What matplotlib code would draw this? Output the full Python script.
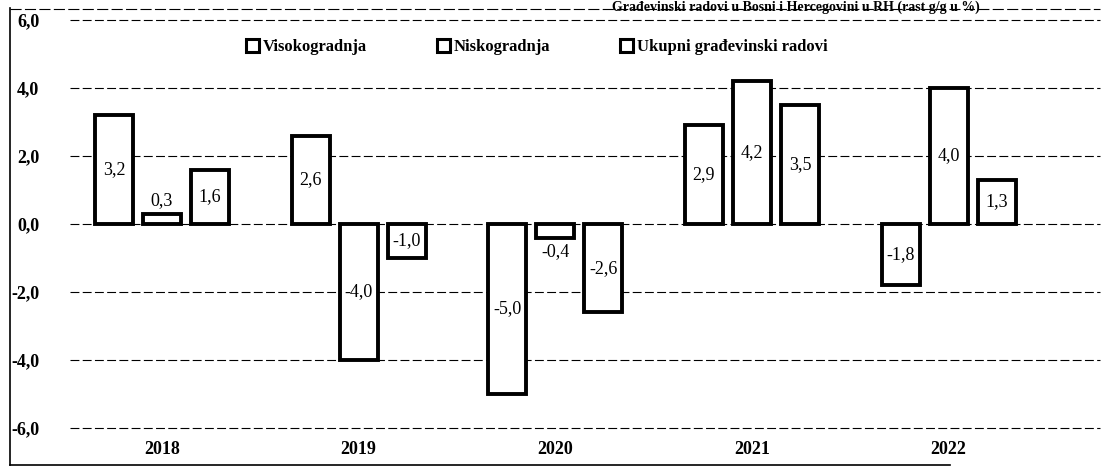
#!/usr/bin/env python3
import matplotlib
matplotlib.use('Agg')
import matplotlib.pyplot as plt
from matplotlib.patches import Rectangle
import numpy as np

years = ['2018', '2019', '2020', '2021', '2022']
series_names = ['Visokogradnja', 'Niskogradnja', 'Ukupni građevinski radovi']
visokogradnja = [3.2, 2.6, -5.0, 2.9, -1.8]
niskogradnja = [0.3, -4.0, -0.4, 4.2, 4.0]
ukupno = [1.6, -1.0, -2.6, 3.5, 1.3]
y_ticks = [-6.0, -4.0, -2.0, 0.0, 2.0, 4.0, 6.0]
title = 'Građevinski radovi u Bosni i Hercegovini u RH (rast g/g u %)'


def fmt(v):
	return "{0:.1f}".format(v).replace('.', ',')


def Main():
	plt.rcParams['font.family'] = ['Liberation Serif', 'DejaVu Serif']
	fig = plt.figure(figsize=(11.04, 4.73), dpi=100)
	ax = fig.add_axes([70/1104, 1-428/473, 1030/1104, 408/473])

	x = np.arange(len(years))
	width = 0.193
	step = 0.244
	all_series = [visokogradnja, niskogradnja, ukupno]

	handles = []
	for k, vals in enumerate(all_series):
		pos = x + (k-1)*step
		ax.bar(pos, vals, width, color='white', edgecolor='black', linewidth=2.8, zorder=3)
		handles.append(Rectangle((0, 0), 1, 1, facecolor='white', edgecolor='black', linewidth=2.2))
		for p, v in zip(pos, vals):
			if abs(v) < 0.5:
				yy = v + (0.15 if v > 0 else -0.15)
				va = 'bottom' if v > 0 else 'top'
			else:
				yy = v/2.0
				va = 'center'
			ax.text(p, yy, fmt(v), ha='center', va=va, fontsize=13, zorder=4)

	ax.set_xlim(-0.468, 4.77)
	ax.set_ylim(-6.0, 6.0)
	ax.set_yticks(y_ticks)
	ax.set_yticklabels([fmt(t) for t in y_ticks], fontsize=13, fontweight='bold')
	ax.set_xticks(x)
	ax.set_xticklabels(years, fontsize=13, fontweight='bold')
	ax.tick_params(axis='both', length=0)
	ax.tick_params(axis='y', pad=22)
	ax.tick_params(axis='x', pad=9)
	for s in ax.spines.values():
		s.set_visible(False)
	ax.yaxis.grid(True, linestyle=(0, (8, 3)), color='black', linewidth=0.8, zorder=0)
	for gl in ax.get_ygridlines():
		gl.set_clip_on(False)
	ax.set_axisbelow(True)

	ax.legend(handles, series_names, loc='upper center', bbox_to_anchor=(0.453, 0.99), ncol=3,
		frameon=False, handlelength=0.8, handleheight=0.8, handletextpad=0.2, columnspacing=4.2,
		prop={'weight': 'bold', 'size': 12})

	# outer frame of the chart
	fig.add_artist(plt.Line2D([10/1104, 10/1104], [1-8/473, 1-465/473], color='black', linewidth=1.2))
	fig.add_artist(plt.Line2D([10/1104, 950/1104], [1-465/473, 1-465/473], color='black', linewidth=1.2))
	fig.add_artist(plt.Line2D([10/1104, 1100/1104], [1-9/473, 1-9/473], color='black', linewidth=0.8, linestyle=(0, (10, 3))))

	fig.text(980/1104, 1-1/473, title, ha='right', va='top', fontsize=10, fontweight='bold')

	plt.savefig("out.png", dpi=100)
	plt.close()
	return()


if __name__ == '__main__':
	Main()
